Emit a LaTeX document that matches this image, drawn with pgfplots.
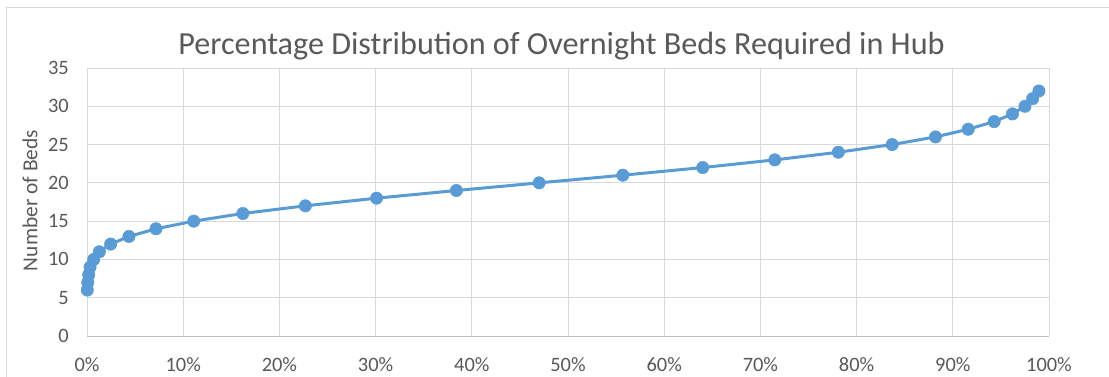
\documentclass[border=0pt]{standalone}
\usepackage{fontspec}
\setmainfont{Carlito}
\usepackage{pgfplots}
\pgfplotsset{compat=1.18}

\definecolor{serieblue}{HTML}{5B9BD5}
\definecolor{gridgrey}{HTML}{D9D9D9}
\definecolor{axisgrey}{HTML}{BFBFBF}
\definecolor{textgrey}{HTML}{595959}

\begin{document}
\begin{tikzpicture}[x=1bp,y=1bp]
\useasboundingbox (-87bp,-41bp) rectangle (1022bp,336bp);
% chart frame (top and left edges)
\draw[gridgrey, line width=1bp] (-80bp,-41bp) -- (-80bp,328bp) -- (1022bp,328bp);
\begin{axis}[
  scale only axis,
  width=962bp, height=268bp,
  xmin=0, xmax=100, ymin=0, ymax=35,
  xtick={0,10,...,100},
  xticklabels={0\%,10\%,20\%,30\%,40\%,50\%,60\%,70\%,80\%,90\%,100\%},
  ytick={0,5,...,35},
  /pgf/number format/assume math mode=true,
  grid=major,
  major grid style={gridgrey, line width=0.9bp},
  major tick length=0pt,
  axis line style={draw=none},
  axis x line*=bottom,
  x axis line style={draw=axisgrey, line width=1bp},
  ticklabel style={font=\fontsize{20.5}{24}\selectfont, text=textgrey},
  xticklabel style={inner sep=0pt, anchor=north, yshift=-21bp},
  yticklabel style={inner sep=0pt, anchor=east, xshift=-18bp},
  ylabel={Number of Beds},
  ylabel style={font=\fontsize{21.5}{25}\selectfont, text=textgrey, at={(-57bp,135.5bp)}, anchor=center, rotate=0},
  clip=false,
]
\addplot[serieblue, line width=3bp, mark=*, mark size=6.2bp,
  mark options={fill=serieblue, draw=serieblue, line width=0.5bp}]
  coordinates {
  (0.03,6) (0.08,7) (0.18,8) (0.32,9) (0.70,10) (1.28,11) (2.46,12)
  (4.36,13) (7.17,14) (11.1,15) (16.2,16) (22.7,17) (30.1,18) (38.4,19)
  (47.0,20) (55.7,21) (64.0,22) (71.5,23) (78.1,24) (83.7,25) (88.2,26)
  (91.6,27) (94.3,28) (96.2,29) (97.5,30) (98.3,31) (98.95,32)
  };
\end{axis}
\node[anchor=base, text=textgrey, font=\fontsize{32.3}{38}\selectfont] at (474.5bp,281bp)
  {Percentage Distribution of Overnight Beds Required in Hub};
\end{tikzpicture}
\end{document}
